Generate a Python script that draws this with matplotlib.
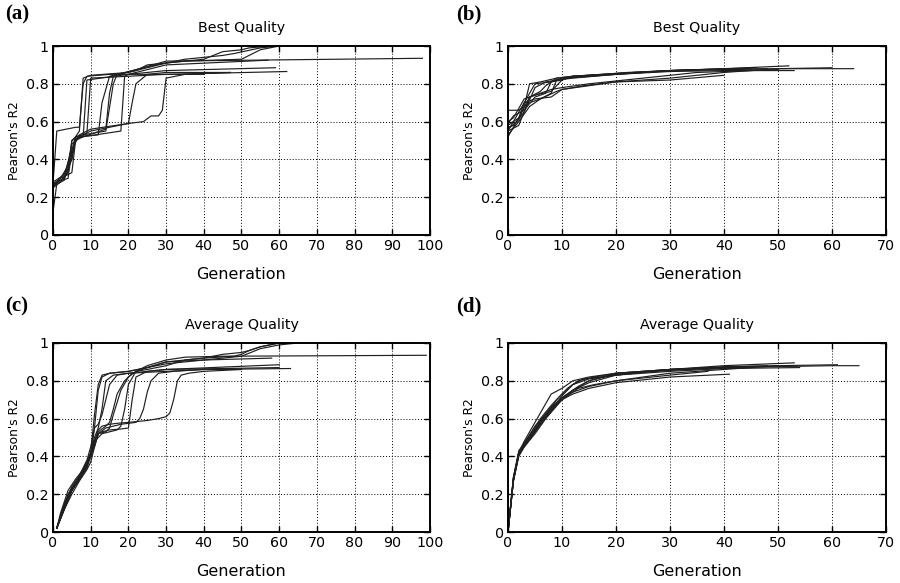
import matplotlib
matplotlib.use("Agg")
import matplotlib.pyplot as plt

# ---------------- Panel (a): Best Quality ----------------
a1_x = [0, 1, 4, 5, 6, 7, 8, 10, 20, 30, 35, 45, 48, 55, 60]
a1_y = [0.27, 0.28, 0.30, 0.45, 0.52, 0.55, 0.83, 0.845, 0.86, 0.91, 0.93, 0.95, 0.96, 0.99, 1.0]
a2_x = [0, 2, 5, 6, 8, 9, 20, 30, 57]
a2_y = [0.25, 0.30, 0.33, 0.50, 0.52, 0.82, 0.85, 0.90, 0.925]
a3_x = [0, 1, 3, 5, 7, 9, 10, 30, 62]
a3_y = [0.12, 0.27, 0.29, 0.48, 0.52, 0.54, 0.83, 0.85, 0.865]
a4_x = [0, 1, 6, 7, 8, 9, 15, 40]
a4_y = [0.27, 0.55, 0.57, 0.57, 0.80, 0.84, 0.85, 0.85]
a5_x = [0, 2, 4, 5, 7, 12, 13, 15, 17, 25, 30, 35, 50, 55, 60]
a5_y = [0.26, 0.30, 0.35, 0.50, 0.52, 0.53, 0.70, 0.84, 0.85, 0.89, 0.91, 0.92, 0.93, 0.98, 1.0]
a6_x = [0, 3, 5, 6, 8, 14, 15, 16, 30, 98]
a6_y = [0.27, 0.30, 0.40, 0.51, 0.52, 0.56, 0.75, 0.84, 0.92, 0.935]
a7_x = [0, 2, 4, 6, 8, 18, 19, 20, 30, 59]
a7_y = [0.25, 0.28, 0.34, 0.51, 0.52, 0.55, 0.84, 0.85, 0.87, 0.885]
a8_x = [0, 3, 5, 7, 10, 20, 21, 22, 25, 30, 40, 47]
a8_y = [0.28, 0.32, 0.45, 0.53, 0.56, 0.59, 0.70, 0.80, 0.85, 0.86, 0.86, 0.86]
a9_x = [0, 2, 4, 5, 6, 8, 10, 20, 24, 26, 28, 29, 30, 35, 47]
a9_y = [0.26, 0.28, 0.33, 0.50, 0.52, 0.53, 0.55, 0.59, 0.60, 0.63, 0.63, 0.66, 0.83, 0.85, 0.86]
a10_x = [0, 2, 5, 6, 8, 14, 16, 17, 22, 25, 30, 40, 45, 50, 52, 58]
a10_y = [0.27, 0.30, 0.40, 0.52, 0.53, 0.55, 0.80, 0.85, 0.87, 0.90, 0.91, 0.93, 0.97, 0.98, 0.99, 1.0]

# ---------------- Panel (b): Best Quality ----------------
b1_x = [0, 1, 3, 4, 5, 8, 10, 12, 20, 30, 40, 50, 60, 64]
b1_y = [0.55, 0.60, 0.70, 0.75, 0.80, 0.81, 0.82, 0.84, 0.85, 0.87, 0.875, 0.88, 0.88, 0.88]
b2_x = [0, 2, 4, 6, 9, 10, 15, 20, 30, 40]
b2_y = [0.66, 0.66, 0.70, 0.72, 0.76, 0.77, 0.79, 0.81, 0.82, 0.845]
b3_x = [0, 2, 4, 6, 8, 9, 12, 20, 30, 40, 52]
b3_y = [0.53, 0.60, 0.68, 0.72, 0.75, 0.82, 0.83, 0.85, 0.87, 0.88, 0.895]
b4_x = [0, 1, 3, 5, 7, 9, 11, 20, 30, 40, 53]
b4_y = [0.57, 0.58, 0.65, 0.78, 0.81, 0.82, 0.83, 0.85, 0.865, 0.87, 0.87]
b5_x = [0, 2, 3, 5, 8, 10, 14, 20, 30, 40, 50, 60]
b5_y = [0.58, 0.62, 0.70, 0.72, 0.73, 0.77, 0.79, 0.81, 0.83, 0.86, 0.88, 0.885]
b6_x = [0, 1, 3, 5, 8, 10, 12, 20, 30, 45]
b6_y = [0.60, 0.62, 0.72, 0.74, 0.76, 0.82, 0.84, 0.855, 0.87, 0.88]
b7_x = [0, 2, 4, 6, 7, 9, 12, 18, 25, 35, 48]
b7_y = [0.55, 0.58, 0.73, 0.76, 0.79, 0.83, 0.84, 0.85, 0.86, 0.875, 0.88]
b8_x = [0, 1, 2, 4, 6, 8, 10, 15, 25, 35, 50]
b8_y = [0.52, 0.57, 0.62, 0.73, 0.75, 0.77, 0.78, 0.80, 0.83, 0.86, 0.875]
b9_x = [0, 2, 3, 4, 6, 9, 12, 20, 30, 42]
b9_y = [0.56, 0.61, 0.68, 0.80, 0.81, 0.83, 0.84, 0.855, 0.87, 0.88]
b10_x = [0, 1, 3, 5, 7, 8, 10, 15, 22, 30, 46]
b10_y = [0.59, 0.63, 0.66, 0.73, 0.75, 0.81, 0.83, 0.84, 0.86, 0.87, 0.885]

# ---------------- Panel (c): Average Quality ----------------
c1_x = [1, 2, 4, 6, 8, 10, 11, 12, 13, 15, 20, 25, 30, 40, 45, 50, 52, 55, 60, 65]
c1_y = [0.02, 0.10, 0.22, 0.28, 0.33, 0.42, 0.62, 0.78, 0.83, 0.84, 0.85, 0.87, 0.90, 0.92, 0.94, 0.95, 0.96, 0.98, 1.0, 1.0]
c2_x = [1, 2, 4, 6, 8, 10, 11, 12, 13, 15, 20, 30, 40, 58]
c2_y = [0.02, 0.08, 0.20, 0.26, 0.32, 0.40, 0.55, 0.75, 0.82, 0.84, 0.85, 0.89, 0.91, 0.92]
c3_x = [1, 3, 5, 7, 9, 10, 11, 12, 13, 14, 16, 20, 30, 40, 63]
c3_y = [0.02, 0.12, 0.22, 0.28, 0.34, 0.42, 0.50, 0.55, 0.65, 0.80, 0.83, 0.84, 0.85, 0.86, 0.865]
c4_x = [1, 3, 5, 7, 9, 10, 11, 12, 13, 15, 17, 20, 30, 60]
c4_y = [0.02, 0.15, 0.24, 0.30, 0.38, 0.45, 0.55, 0.57, 0.62, 0.78, 0.83, 0.84, 0.86, 0.87]
c5_x = [1, 3, 5, 7, 9, 10, 11, 12, 14, 15, 16, 17, 19, 21, 25, 30, 40, 45, 50, 55, 60, 65]
c5_y = [0.02, 0.14, 0.22, 0.28, 0.35, 0.40, 0.48, 0.53, 0.56, 0.58, 0.65, 0.73, 0.80, 0.84, 0.87, 0.90, 0.91, 0.92, 0.93, 0.97, 0.99, 1.0]
c6_x = [1, 3, 5, 7, 9, 10, 11, 12, 14, 15, 16, 18, 20, 22, 25, 30, 35, 45, 99]
c6_y = [0.02, 0.12, 0.20, 0.27, 0.33, 0.37, 0.45, 0.52, 0.53, 0.55, 0.62, 0.75, 0.82, 0.85, 0.88, 0.91, 0.925, 0.93, 0.935]
c7_x = [1, 3, 5, 7, 9, 11, 12, 13, 15, 18, 20, 21, 22, 25, 30, 60]
c7_y = [0.02, 0.12, 0.22, 0.28, 0.36, 0.45, 0.52, 0.53, 0.54, 0.545, 0.55, 0.70, 0.82, 0.85, 0.86, 0.885]
c8_x = [1, 3, 5, 7, 9, 11, 12, 14, 16, 18, 20, 22, 23, 24, 25, 26, 28, 32, 40, 50]
c8_y = [0.02, 0.13, 0.22, 0.29, 0.36, 0.46, 0.52, 0.55, 0.56, 0.57, 0.575, 0.58, 0.60, 0.65, 0.74, 0.80, 0.84, 0.85, 0.86, 0.86]
c9_x = [1, 3, 5, 7, 9, 11, 12, 13, 15, 17, 20, 25, 28, 30, 31, 32, 33, 34, 36, 40, 50]
c9_y = [0.02, 0.14, 0.23, 0.29, 0.36, 0.48, 0.54, 0.56, 0.57, 0.575, 0.58, 0.59, 0.60, 0.61, 0.63, 0.70, 0.80, 0.83, 0.84, 0.85, 0.86]
c10_x = [1, 3, 5, 7, 9, 10, 11, 13, 15, 17, 18, 19, 20, 22, 25, 30, 35, 40, 48, 50, 52, 55, 60, 65]
c10_y = [0.02, 0.13, 0.22, 0.28, 0.34, 0.40, 0.48, 0.52, 0.53, 0.54, 0.56, 0.65, 0.78, 0.85, 0.86, 0.88, 0.91, 0.92, 0.93, 0.94, 0.96, 0.98, 1.0, 1.0]

# ---------------- Panel (d): Average Quality ----------------
d1_x = [0, 1, 2, 3, 5, 8, 10, 12, 15, 20, 30, 40, 50, 60, 65]
d1_y = [0, 0.28, 0.42, 0.47, 0.56, 0.66, 0.71, 0.75, 0.79, 0.83, 0.86, 0.87, 0.875, 0.88, 0.88]
d2_x = [0, 1, 2, 3, 5, 8, 10, 12, 15, 20, 30, 41]
d2_y = [0, 0.27, 0.41, 0.46, 0.54, 0.64, 0.70, 0.73, 0.76, 0.79, 0.82, 0.835]
d3_x = [0, 1, 2, 3, 5, 8, 10, 12, 15, 20, 30, 40, 53]
d3_y = [0, 0.29, 0.42, 0.48, 0.58, 0.73, 0.76, 0.80, 0.82, 0.84, 0.86, 0.88, 0.895]
d4_x = [0, 1, 2, 3, 5, 7, 10, 12, 14, 20, 30, 40, 54]
d4_y = [0, 0.28, 0.41, 0.46, 0.53, 0.61, 0.72, 0.78, 0.81, 0.83, 0.85, 0.865, 0.87]
d5_x = [0, 1, 2, 3, 5, 7, 10, 12, 15, 20, 30, 40, 50, 61]
d5_y = [0, 0.27, 0.40, 0.45, 0.52, 0.60, 0.70, 0.75, 0.80, 0.84, 0.86, 0.875, 0.88, 0.885]
d6_x = [0, 1, 2, 4, 6, 8, 10, 13, 16, 20, 30, 37]
d6_y = [0, 0.28, 0.42, 0.50, 0.59, 0.65, 0.70, 0.76, 0.78, 0.80, 0.83, 0.85]
d7_x = [0, 1, 2, 4, 6, 8, 10, 12, 15, 20, 30, 40, 48]
d7_y = [0, 0.29, 0.43, 0.51, 0.60, 0.67, 0.73, 0.78, 0.81, 0.83, 0.86, 0.87, 0.88]
d8_x = [0, 1, 2, 4, 6, 8, 10, 13, 15, 20, 30, 45]
d8_y = [0, 0.27, 0.41, 0.49, 0.57, 0.64, 0.71, 0.77, 0.80, 0.835, 0.855, 0.875]
d9_x = [0, 1, 2, 4, 6, 8, 10, 12, 15, 20, 30, 40, 50]
d9_y = [0, 0.28, 0.42, 0.49, 0.58, 0.66, 0.71, 0.74, 0.77, 0.80, 0.84, 0.86, 0.88]
d10_x = [0, 1, 2, 4, 6, 9, 11, 13, 16, 20, 30, 44]
d10_y = [0, 0.27, 0.41, 0.50, 0.58, 0.70, 0.76, 0.80, 0.82, 0.84, 0.86, 0.875]

series_a = [(a1_x, a1_y), (a2_x, a2_y), (a3_x, a3_y), (a4_x, a4_y), (a5_x, a5_y),
            (a6_x, a6_y), (a7_x, a7_y), (a8_x, a8_y), (a9_x, a9_y), (a10_x, a10_y)]
series_b = [(b1_x, b1_y), (b2_x, b2_y), (b3_x, b3_y), (b4_x, b4_y), (b5_x, b5_y),
            (b6_x, b6_y), (b7_x, b7_y), (b8_x, b8_y), (b9_x, b9_y), (b10_x, b10_y)]
series_c = [(c1_x, c1_y), (c2_x, c2_y), (c3_x, c3_y), (c4_x, c4_y), (c5_x, c5_y),
            (c6_x, c6_y), (c7_x, c7_y), (c8_x, c8_y), (c9_x, c9_y), (c10_x, c10_y)]
series_d = [(d1_x, d1_y), (d2_x, d2_y), (d3_x, d3_y), (d4_x, d4_y), (d5_x, d5_y),
            (d6_x, d6_y), (d7_x, d7_y), (d8_x, d8_y), (d9_x, d9_y), (d10_x, d10_y)]

panel_labels = ["(a)", "(b)", "(c)", "(d)"]
titles = ["Best Quality", "Best Quality", "Average Quality", "Average Quality"]
xmax = [100, 70, 100, 70]
xticks_a = [0, 10, 20, 30, 40, 50, 60, 70, 80, 90, 100]
xticks_b = [0, 10, 20, 30, 40, 50, 60, 70]
yticks = [0, 0.2, 0.4, 0.6, 0.8, 1]
ytick_labels = ["0", "0.2", "0.4", "0.6", "0.8", "1"]
xlabel = "Generation"
ylabel = "Pearson's R2"

plt.rcParams['font.family'] = ['DejaVu Sans']

fig = plt.figure(figsize=(9, 5.83), dpi=100)
W, H = 900, 583
boxes = [(53, 46, 430, 235), (508, 46, 886, 235), (53, 343, 430, 532), (508, 343, 886, 532)]
label_pos = [(5, 14), (456, 14), (5, 306), (456, 306)]
all_series = [series_a, series_b, series_c, series_d]
all_xticks = [xticks_a, xticks_b, xticks_a, xticks_b]

for i in range(4):
    l, t, r, b = boxes[i]
    ax = fig.add_axes([l / W, 1 - b / H, (r - l) / W, (b - t) / H])
    for xs, ys in all_series[i]:
        ax.plot(xs, ys, color='#1f1f1f', linewidth=0.85)
    ax.set_xlim(0, xmax[i])
    ax.set_ylim(0, 1)
    ax.set_xticks(all_xticks[i])
    ax.set_xticklabels([str(v) for v in all_xticks[i]], fontsize=10.3)
    ax.set_yticks(yticks)
    ax.set_yticklabels(ytick_labels, fontsize=10.3)
    ax.grid(True, color='black', linestyle=(0, (1, 2)), linewidth=0.7)
    ax.tick_params(direction='in', top=True, right=True, length=4, width=1, pad=3)
    for s in ax.spines.values():
        s.set_linewidth(1.4)
    ax.set_title(titles[i], fontsize=10.3, pad=10)
    ax.set_xlabel(xlabel, fontsize=11.5, labelpad=10)
    ax.set_ylabel(ylabel, fontsize=8.8, labelpad=4)
    lx, ly = label_pos[i]
    fig.text(lx / W, 1 - ly / H, panel_labels[i], fontsize=15, fontweight='bold',
             family='Liberation Serif', ha='left', va='center')

fig.savefig("out.png", dpi=100)
